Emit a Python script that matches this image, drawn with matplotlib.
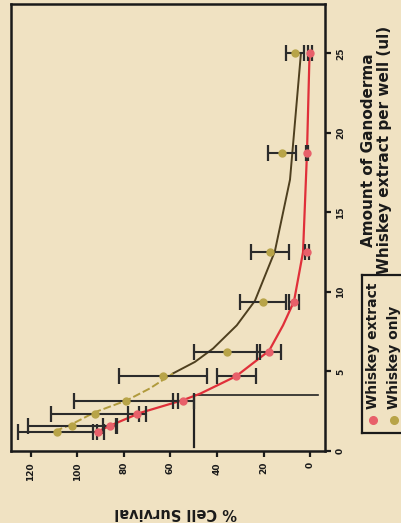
import matplotlib
matplotlib.use("Agg")
import matplotlib.pyplot as plt

# dose (ul per well) and % cell survival
amount = [1.17, 1.56, 2.34, 3.125, 4.69, 6.25, 9.375, 12.5, 18.75, 25]
extract_mean = [91, 86, 74.4, 54.6, 31.8, 17.6, 6.9, 1.3, 1.3, 0]
extract_err = [2.5, 3, 4, 4.5, 8.4, 5.2, 2, 0.8, 0.5, 1]
only_mean = [108.8, 102.4, 92.5, 79.1, 63.2, 35.7, 20.2, 17.2, 12.0, 6.5]
only_err = [17, 19, 19, 22.5, 19, 14, 10, 8, 6, 4]

# fitted curves as drawn in the figure
extract_fit_x = [1.17, 1.56, 2.4, 3.2, 3.6, 4.7, 6.3, 7.9, 9.4, 12.5, 18.75, 25]
extract_fit_y = [92, 86.5, 73, 54.6, 47.3, 31.8, 17.6, 11.6, 6.9, 3.0, 1.3, 0.2]
only_fit_x = [1.25, 1.63, 2.44, 3.19, 3.94, 4.88, 5.6, 6.44, 7.9, 9.44, 12.56, 17.06, 25]
only_fit_y = [109.7, 103.2, 92.5, 78.7, 68.8, 58.9, 49.5, 41.7, 31.5, 23.7, 15.1, 8.6, 3.9]

ic50_amount = 3.5
ic50_survival = 50

series_labels = ["Whiskey extract", "Whiskey only"]
amount_ticks = [0, 5, 10, 15, 20, 25]
survival_ticks = [0, 20, 40, 60, 80, 100, 120]

paper = "#f0e2c2"
ink = "#1a1a1a"
red_line = "#e0303a"
red_dot = "#e8606a"
olive_dot = "#b8a448"
olive_line = "#4e3f1f"
olive_dash = "#b09a3c"

plt.rcParams["font.family"] = ["DejaVu Sans"]
plt.rcParams["font.weight"] = "bold"

fig = plt.figure(figsize=(4.01, 5.23), dpi=100, facecolor=paper)
# the figure is printed turned a quarter turn: survival runs right-to-left, dose runs upwards
ax = fig.add_axes([11 / 401, 1 - 451 / 523, 314 / 401, 447 / 523], facecolor=paper)

ax.plot(extract_fit_y, extract_fit_x, color=red_line, lw=1.6, zorder=2)
ax.plot(only_fit_y[5:], only_fit_x[5:], color=olive_line, lw=1.4, zorder=2)
ax.plot(only_fit_y[:6], only_fit_x[:6], color=olive_dash, lw=1.4, ls=(0, (4, 1.5)), zorder=2)

ax.errorbar(only_mean, amount, xerr=only_err, fmt="none", ecolor="#2b2b2b",
            elinewidth=1.5, capsize=5.5, capthick=1.6, zorder=3)
ax.errorbar(extract_mean, amount, xerr=extract_err, fmt="none", ecolor="#2b2b2b",
            elinewidth=1.5, capsize=5.5, capthick=1.6, zorder=3)
ax.plot(only_mean, amount, "o", color=olive_dot, ms=5, zorder=4)
ax.plot(extract_mean, amount, "o", color=red_dot, ms=5, zorder=4)

# IC50 guide lines
ax.plot([ic50_survival, -3.4], [ic50_amount, ic50_amount], color="#222222", lw=1.2, zorder=1)
ax.plot([ic50_survival, ic50_survival], [0.25, ic50_amount], color="#222222", lw=1.6, zorder=1)

ax.set_xlim(128.6, -6.45)
ax.set_ylim(0, 28.1)
for s in ax.spines.values():
    s.set_linewidth(1.8)
    s.set_color(ink)

ax.set_xticks(survival_ticks)
ax.set_xticklabels([str(t) for t in survival_ticks], rotation=90, fontsize=6.5, fontweight="bold")
ax.yaxis.tick_right()
ax.set_yticks(amount_ticks)
ax.set_yticklabels([str(t) for t in amount_ticks], rotation=90, fontsize=6.5,
                   fontweight="bold", va="center")
ax.tick_params(axis="both", length=4, width=1.6, color=ink, labelcolor=ink, pad=4)

fig.text(176 / 401, 1 - 512 / 523, "% Cell Survival", rotation=180, ha="center",
         va="center", fontsize=10.5, fontweight="bold", color=ink)
fig.text(361 / 401, 1 - 150 / 523, "Amount of Ganoderma\nWhiskey extract per well (ul)",
         rotation=90, ha="left", va="center", multialignment="center",
         fontsize=11, fontweight="bold", color=ink, linespacing=1.1)

# legend box, drawn by hand because the text is turned
lg = fig.add_axes([362 / 401, 1 - 433 / 523, 45 / 401, 158 / 523], facecolor=paper)
lg.set_xlim(0, 1)
lg.set_ylim(0, 1)
lg.set_xticks([])
lg.set_yticks([])
for s in lg.spines.values():
    s.set_linewidth(1.6)
    s.set_color(ink)
for i, (lab, col) in enumerate(zip(series_labels, [red_dot, olive_dot])):
    xc = 0.25 + i * 0.47
    lg.plot([xc], [0.085], "o", color=col, ms=5.5, clip_on=False)
    lg.text(xc, 0.15, lab, rotation=90, ha="center", va="bottom", fontsize=10,
            fontweight="bold", color=ink)

fig.savefig("out.png", dpi=100, facecolor=paper)
